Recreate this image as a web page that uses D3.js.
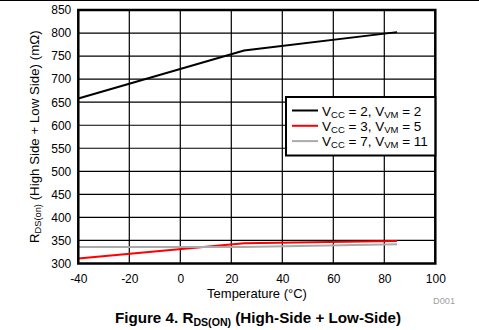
<!DOCTYPE html>
<html><head><meta charset="utf-8">
<script src="https://cdn.jsdelivr.net/npm/d3@7"></script>
<style>body{margin:0;background:#fff}svg{display:block;font-family:"Liberation Sans",Arial,sans-serif}</style>
</head><body><svg id="c" width="479" height="330"></svg>
<script>
const temps = [-40, 25, 85];
const seriesA = [658, 762, 802]; // VCC=2, VVM=2
const seriesB = [311, 344, 349]; // VCC=3, VVM=5
const seriesC = [336, 336, 342]; // VCC=7, VVM=11
const xTicks = [-40, -20, 0, 20, 40, 60, 80, 100];
const yTicks = [300, 350, 400, 450, 500, 550, 600, 650, 700, 750, 800, 850];
const seriesColors = ["#000000", "#ff0000", "#aaaaaa"];
const seriesNames = [["2","2"],["3","5"],["7","11"]];

const svg = d3.select("#c");
const L = 78.3, R = 435.3, T = 10, B = 263.5;
const x = d3.scaleLinear().domain([-40, 100]).range([L, R]);
const y = d3.scaleLinear().domain([300, 850]).range([B, T]);

svg.append("line").attr("x1",0).attr("x2",479).attr("y1",0.5).attr("y2",0.5).attr("stroke","#000").attr("stroke-width",1);

// grid
svg.append("g").selectAll("line").data(xTicks).join("line")
  .attr("x1", d=>x(d)).attr("x2", d=>x(d)).attr("y1", T).attr("y2", B)
  .attr("stroke","#000").attr("stroke-width",1.2);
svg.append("g").selectAll("line").data(yTicks).join("line")
  .attr("x1", L).attr("x2", R).attr("y1", d=>y(d)).attr("y2", d=>y(d))
  .attr("stroke","#000").attr("stroke-width",1.2);

// axes labels
const xa = svg.append("g").attr("transform",`translate(0,${B})`)
  .call(d3.axisBottom(x).tickValues(xTicks).tickFormat(d=>String(d)).tickSize(0).tickPadding(11));
xa.select(".domain").remove();
xa.selectAll("text").attr("font-size","12px").attr("fill","#000").attr("font-family","Liberation Sans, Arial, sans-serif");
const ya = svg.append("g").attr("transform",`translate(${L},0)`)
  .call(d3.axisLeft(y).tickValues(yTicks).tickFormat(d=>String(d)).tickSize(0).tickPadding(7));
ya.select(".domain").remove();
ya.selectAll("text").attr("font-size","12px").attr("fill","#000").attr("font-family","Liberation Sans, Arial, sans-serif");

// lines
const line = d3.line().x((d,i)=>x(temps[i])).y(d=>y(d));
[seriesA, seriesB, seriesC].forEach((s,k)=>{
  svg.append("path").datum(s).attr("d", line).attr("fill","none")
    .attr("stroke", seriesColors[k]).attr("stroke-width", 2);
});

// frame
svg.append("rect").attr("x",L).attr("y",T).attr("width",R-L).attr("height",B-T)
  .attr("fill","none").attr("stroke","#000").attr("stroke-width",2.5);

// legend
const lg = svg.append("g");
lg.append("rect").attr("x",286).attr("y",97).attr("width",R-286).attr("height",58.5)
  .attr("fill","#fff").attr("stroke","#000").attr("stroke-width",2);
seriesNames.forEach((n,i)=>{
  const yy = 110.5 + i*15.3;
  lg.append("line").attr("x1",292).attr("x2",318).attr("y1",yy).attr("y2",yy)
    .attr("stroke",seriesColors[i]).attr("stroke-width",2);
  const t = lg.append("text").attr("x",322).attr("y",yy+5).attr("font-size","13.5px").attr("fill","#000");
  t.append("tspan").text("V");
  t.append("tspan").text("CC").attr("font-size","9.5px").attr("dy",2);
  t.append("tspan").text(" = "+n[0]+", V").attr("dy",-2);
  t.append("tspan").text("VM").attr("font-size","9.5px").attr("dy",2);
  t.append("tspan").text(" = "+n[1]).attr("dy",-2);
});

// axis titles
svg.append("text").attr("x", 257).attr("y", 298).attr("text-anchor","middle")
  .attr("font-size","13px").text("Temperature (°C)");
const yl = svg.append("text").attr("transform",`translate(38.5,${(T+B)/2}) rotate(-90)`)
  .attr("text-anchor","middle").attr("font-size","13.3px");
yl.append("tspan").text("R");
yl.append("tspan").text("DS(on)").attr("font-size","9.3px").attr("dy",2.5);
yl.append("tspan").text(" (High Side + Low Side) (mΩ)").attr("dy",-2.5);

svg.append("text").attr("x",455).attr("y",304).attr("text-anchor","end")
  .attr("font-size","9.2px").attr("fill","#a0a0a0").text("D001");

const tt = svg.append("text").attr("x",258).attr("y",323).attr("text-anchor","middle")
  .attr("font-size","15.2px").attr("font-weight","bold");
tt.append("tspan").text("Figure 4. R");
tt.append("tspan").text("DS(ON)").attr("font-size","10.6px").attr("dy",3);
tt.append("tspan").text(" (High-Side + Low-Side)").attr("dy",-3);
</script></body></html>
